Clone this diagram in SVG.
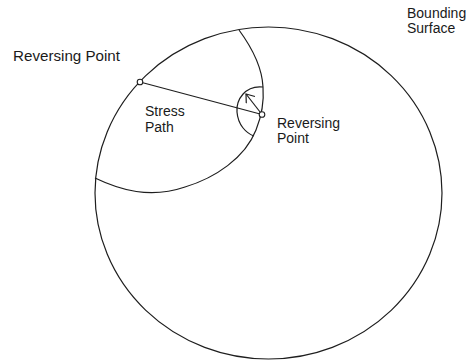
<svg xmlns="http://www.w3.org/2000/svg" width="468" height="362" viewBox="0 0 468 362">
  <style>
    .ln { fill: none; stroke: #1e1e1e; stroke-width: 1.2; }
    .pt { fill: #ffffff; stroke: #1e1e1e; stroke-width: 1.1; }
    .lbl { font-family: "Liberation Sans", Arial, sans-serif; font-size: 14px; fill: #1a1a1a; }
  </style>
  <defs>
    <marker id="openArrow" markerUnits="userSpaceOnUse" markerWidth="12" markerHeight="12" viewBox="-9 -6 10 12" refX="0" refY="0" orient="auto">
      <path d="M-7.5,-5.5 L0,0 L-7.5,5.5" fill="none" stroke="#1e1e1e" stroke-width="1.2"/>
    </marker>
  </defs>
  <rect width="468" height="362" fill="#ffffff"/>

  <g id="bounding-surface">
    <ellipse class="ln" cx="268.5" cy="193" rx="173.5" ry="166"/>
  </g>

  <g id="yield-surface">
    <path class="ln" d="M95,178 C120,190 150,199 185,187 C215,178 245,158 256,130 C262,115 264,100 263,87 C262,65 250,45 239,30"/>
  </g>

  <g id="small-surface">
    <path class="ln" d="M263,87 C245,85 236,100 237,112 C238,125 246,133 254,136"/>
  </g>

  <g id="connectors">
    <line id="stress-path" class="ln" x1="140" y1="82" x2="262" y2="114.5"/>
    <line id="direction-arrow" class="ln" x1="262" y1="114.5" x2="246" y2="94" marker-end="url(#openArrow)"/>
  </g>

  <g id="reversing-point-1">
    <circle class="pt" cx="140" cy="82" r="2.8"/>
  </g>
  <g id="reversing-point-2">
    <circle class="pt" cx="262" cy="114.5" r="2.8"/>
  </g>

  <g id="labels">
    <text class="lbl" x="13" y="61" textLength="107" lengthAdjust="spacingAndGlyphs">Reversing Point</text>
    <text class="lbl" x="145" y="116">Stress</text>
    <text class="lbl" x="145" y="132">Path</text>
    <text class="lbl" x="277" y="128">Reversing</text>
    <text class="lbl" x="277" y="143">Point</text>
    <text class="lbl" x="407" y="18">Bounding</text>
    <text class="lbl" x="407" y="33">Surface</text>
  </g>
</svg>
